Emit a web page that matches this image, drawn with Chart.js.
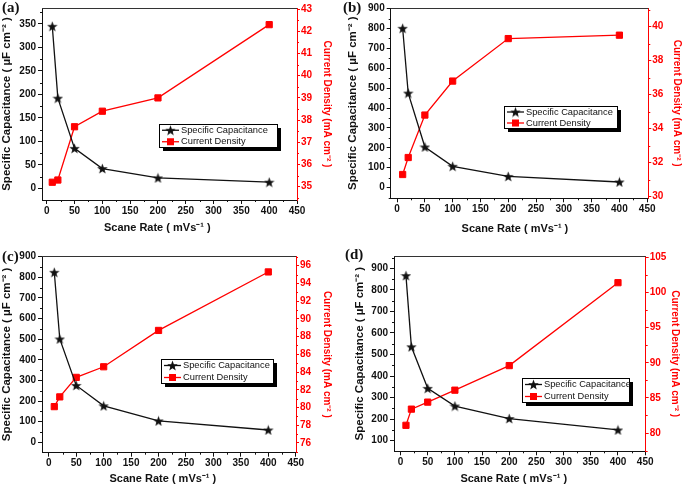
<!DOCTYPE html>
<html lang="en">
<head>
<meta charset="UTF-8">
<title>Specific Capacitance and Current Density vs Scan Rate</title>
<script src="https://cdn.jsdelivr.net/npm/chart.js"></script>
<style>
  body { margin: 0; background: #fff; }
  .panel { position: absolute; }
  canvas { display: block; }
</style>
</head>
<body>
<div class="panel" style="left:0;top:0"><canvas id="chartA" width="342" height="240"></canvas></div>
<div class="panel" style="left:342px;top:0"><canvas id="chartB" width="343" height="240"></canvas></div>
<div class="panel" style="left:0;top:243px"><canvas id="chartC" width="342" height="244"></canvas></div>
<div class="panel" style="left:342px;top:243px"><canvas id="chartD" width="343" height="244"></canvas></div>

<script>
  // scan rates shared by all four panels (mV/s)
  const scanRate = [10, 20, 50, 100, 200, 400];

  // specific capacitance (uF cm-2) and current density (mA cm-2), panels a-d
  const capA = [345, 192, 85, 42, 22, 13];
  const curA = [35.2, 35.3, 37.7, 38.4, 39.0, 42.3];
  const capB = [801, 475, 204, 107, 56, 28];
  const curB = [31.3, 32.3, 34.8, 36.8, 39.3, 39.5];
  const capC = [824, 501, 276, 177, 104, 60];
  const curC = [80.1, 81.2, 83.4, 84.6, 88.7, 95.3];
  const capD = [866, 536, 343, 261, 203, 150];
  const curD = [81.1, 83.4, 84.4, 86.1, 89.6, 101.4];

  // tick labels
  const xTicks = [0, 50, 100, 150, 200, 250, 300, 350, 400, 450];
  const capTicksA = [0, 50, 100, 150, 200, 250, 300, 350];
  const curTicksA = [35, 36, 37, 38, 39, 40, 41, 42, 43];
  const capTicksB = [0, 100, 200, 300, 400, 500, 600, 700, 800, 900];
  const curTicksB = [30, 32, 34, 36, 38, 40];
  const capTicksC = [0, 100, 200, 300, 400, 500, 600, 700, 800, 900];
  const curTicksC = [76, 78, 80, 82, 84, 86, 88, 90, 92, 94, 96];
  const capTicksD = [100, 200, 300, 400, 500, 600, 700, 800, 900];
  const curTicksD = [80, 85, 90, 95, 100, 105];

  const FONT = "'Liberation Sans', Arial, sans-serif";
  const RED = '#ff0000';
  const INK = '#111';

  // filled five point star like Origin's symbol
  function starImage(size) {
    const c = document.createElement('canvas');
    c.width = c.height = size;
    const g = c.getContext('2d');
    g.fillStyle = INK;
    g.beginPath();
    for (let i = 0; i < 10; i++) {
      const r = i % 2 ? size * 0.21 : size * 0.5;
      const a = -Math.PI / 2 + i * Math.PI / 5;
      const px = size / 2 + r * Math.cos(a);
      const py = size / 2 + 0.5 + r * Math.sin(a);
      i ? g.lineTo(px, py) : g.moveTo(px, py);
    }
    g.closePath();
    g.fill();
    return c;
  }
  const star = starImage(11);

  function minorTicks(ticks, range) {
    const step = ticks[1] - ticks[0];
    const out = [];
    for (let v = ticks[0] - step / 2; v <= ticks[ticks.length - 1] + step / 2 + 1e-9; v += step) {
      if (v > range[0] && v < range[1]) out.push(v);
    }
    return out;
  }

  const panels = [
    { id: 'chartA', tag: '(a)', tagPos: [2, 8], cap: capA, cur: curA, capTicks: capTicksA, curTicks: curTicksA,
      xRange: [-8.5, 450], capRange: [-25, 384], curRange: [34.4, 43.05],
      box: { left: 42, right: 45, top: 5, bottom: 40 }, pad: { left: 0, right: 9.6, bottom: 5.7 }, xShift: 8,
      legend: { x: 159, y: 124, w: 118, h: 23 } },
    { id: 'chartB', tag: '(b)', tagPos: [1, 8], cap: capB, cur: curB, capTicks: capTicksB, curTicks: curTicksB,
      xRange: [-11.5, 452], capRange: [-54, 903], curRange: [29.9, 41.1],
      box: { left: 48.7, right: 36.7, top: 5, bottom: 41.7 }, pad: { left: 3.6, right: 2.6, bottom: 4.7 }, xShift: 3,
      legend: { x: 162, y: 106, w: 113, h: 22 } },
    { id: 'chartC', tag: '(c)', tagPos: [2, 14], cap: capC, cur: curC, capTicks: capTicksC, curTicks: curTicksC,
      xRange: [-12.4, 450.5], capRange: [-50, 903], curRange: [74.9, 97.1],
      box: { left: 42, right: 46, top: 13, bottom: 34.3 }, pad: { left: 0.2, right: 8.9, bottom: 1.1 }, xShift: 4,
      legend: { x: 161, y: 116, w: 112, h: 24 } },
    { id: 'chartD', tag: '(d)', tagPos: [3, 12], cap: capD, cur: curD, capTicks: capTicksD, curTicks: curTicksD,
      xRange: [-12, 451], capRange: [51, 957], curRange: [77.4, 105.2],
      box: { left: 52, right: 39.3, top: 13, bottom: 35.7 }, pad: { left: 11, right: 4.6, bottom: 1.1 }, xShift: 4,
      legend: { x: 180, y: 135, w: 107, h: 24 } }
  ];

  // frame top, minor ticks, boxed legend with shadow and the panel tag
  function decoPlugin(p) {
    const minors = {
      x: minorTicks(xTicks, p.xRange),
      y: minorTicks(p.capTicks, p.capRange),
      y1: minorTicks(p.curTicks, p.curRange)
    };
    return {
      id: 'deco',
      afterDraw(chart) {
        const ctx = chart.ctx;
        const area = chart.chartArea;
        const s = chart.scales;
        ctx.save();
        ctx.lineWidth = 1;
        ctx.strokeStyle = '#333';
        ctx.beginPath();
        ctx.moveTo(area.left, Math.round(area.top) + 0.5);
        ctx.lineTo(area.right, Math.round(area.top) + 0.5);
        ctx.stroke();

        ctx.strokeStyle = INK;
        ctx.beginPath();
        minors.x.forEach(v => {
          const px = Math.round(s.x.getPixelForValue(v)) + 0.5;
          ctx.moveTo(px, area.bottom);
          ctx.lineTo(px, area.bottom + 2);
        });
        minors.y.forEach(v => {
          const py = Math.round(s.y.getPixelForValue(v)) + 0.5;
          ctx.moveTo(area.left, py);
          ctx.lineTo(area.left - 2, py);
        });
        ctx.stroke();
        ctx.strokeStyle = RED;
        ctx.beginPath();
        minors.y1.forEach(v => {
          const py = Math.round(s.y1.getPixelForValue(v)) + 0.5;
          ctx.moveTo(area.right, py);
          ctx.lineTo(area.right + 2, py);
        });
        ctx.stroke();

        const L = p.legend;
        ctx.fillStyle = '#000';
        ctx.fillRect(L.x + 4, L.y + 4, L.w, L.h);
        ctx.fillStyle = '#fff';
        ctx.fillRect(L.x, L.y, L.w, L.h);
        ctx.strokeStyle = '#000';
        ctx.strokeRect(L.x + 0.5, L.y + 0.5, L.w, L.h);
        ctx.font = '9.3px ' + FONT;
        ctx.textBaseline = 'middle';
        chart.data.datasets.forEach((ds, i) => {
          const cy = L.y + L.h * (0.25 + 0.5 * i) + 0.5;
          ctx.strokeStyle = ds.borderColor;
          ctx.lineWidth = ds.borderWidth;
          ctx.beginPath();
          ctx.moveTo(L.x + 3, cy);
          ctx.lineTo(L.x + 20, cy);
          ctx.stroke();
          const mx = L.x + 11.5;
          if (ds.pointStyle === 'rect') {
            ctx.fillStyle = ds.pointBackgroundColor;
            ctx.fillRect(mx - 3.5, cy - 3.5, 7, 7);
          } else {
            ctx.drawImage(ds.pointStyle, mx - ds.pointStyle.width / 2, cy - ds.pointStyle.height / 2);
          }
          ctx.fillStyle = INK;
          ctx.fillText(ds.label, L.x + 22, cy);
        });

        ctx.fillStyle = INK;
        ctx.font = "bold 15px 'Liberation Serif', 'Times New Roman', serif";
        ctx.fillText(p.tag, p.tagPos[0], p.tagPos[1]);
        ctx.restore();
      }
    };
  }

  function makeChart(p) {
    const setTicks = vals => scale => { scale.ticks = vals.map(v => ({ value: v })); };
    const tickFont = { family: FONT, size: 10, weight: 'bold' };

    new Chart(document.getElementById(p.id), {
      type: 'line',
      data: {
        datasets: [
          {
            label: 'Specific Capacitance',
            data: scanRate.map((s, i) => ({ x: s, y: p.cap[i] })),
            yAxisID: 'y',
            borderColor: INK,
            borderWidth: 1.3,
            pointStyle: star,
            pointRadius: 5,
            tension: 0
          },
          {
            label: 'Current Density',
            data: scanRate.map((s, i) => ({ x: s, y: p.cur[i] })),
            yAxisID: 'y1',
            borderColor: RED,
            backgroundColor: RED,
            borderWidth: 1.3,
            pointStyle: 'rect',
            pointRadius: 4.4,
            pointBackgroundColor: RED,
            pointBorderColor: RED,
            pointBorderWidth: 1,
            tension: 0
          }
        ]
      },
      options: {
        responsive: false,
        animation: false,
        events: [],
        layout: { autoPadding: false, padding: { top: p.box.top, left: 0, right: 0, bottom: 0 } },
        plugins: { legend: { display: false }, tooltip: { enabled: false } },
        scales: {
          x: {
            type: 'linear',
            min: p.xRange[0],
            max: p.xRange[1],
            afterBuildTicks: setTicks(xTicks),
            afterFit: scale => { scale.height = p.box.bottom; },
            grid: { drawOnChartArea: false, tickLength: 4, color: INK },
            border: { color: INK },
            ticks: { autoSkip: false, maxRotation: 0, padding: 1, color: INK, font: tickFont, callback: v => String(v) },
            // trailing spaces nudge the centred title left, as in the original
            title: { display: true, text: 'Scane Rate ( mVs\u207B\u00B9 )' + ' '.repeat(p.xShift), color: INK,
                     font: { family: FONT, size: 11, weight: 'bold' }, padding: { top: 0, bottom: p.pad.bottom } }
          },
          y: {
            type: 'linear',
            position: 'left',
            min: p.capRange[0],
            max: p.capRange[1],
            afterBuildTicks: setTicks(p.capTicks),
            afterFit: scale => { scale.width = p.box.left; },
            grid: { drawOnChartArea: false, tickLength: 4, color: INK },
            border: { color: INK },
            ticks: { autoSkip: false, padding: 2, color: INK, font: tickFont, callback: v => String(v) },
            title: { display: true, text: 'Specific Capacitance ( \u00B5F cm\u207B\u00B2 )', color: INK,
                     font: { family: FONT, size: 11.5, weight: 'bold' }, padding: { top: p.pad.left, bottom: 0 } }
          },
          y1: {
            type: 'linear',
            position: 'right',
            min: p.curRange[0],
            max: p.curRange[1],
            afterBuildTicks: setTicks(p.curTicks),
            afterFit: scale => { scale.width = p.box.right; },
            grid: { drawOnChartArea: false, tickLength: 3, color: RED },
            border: { color: RED },
            ticks: { autoSkip: false, padding: 1, color: RED, font: tickFont, callback: v => String(v) },
            title: { display: true, text: 'Current Density (mA cm\u207B\u00B2 )', color: RED,
                     font: { family: FONT, size: 10, weight: 'bold' }, padding: { top: p.pad.right, bottom: 0 } }
          }
        }
      },
      plugins: [decoPlugin(p)]
    });
  }

  panels.forEach(makeChart);
</script>
</body>
</html>
